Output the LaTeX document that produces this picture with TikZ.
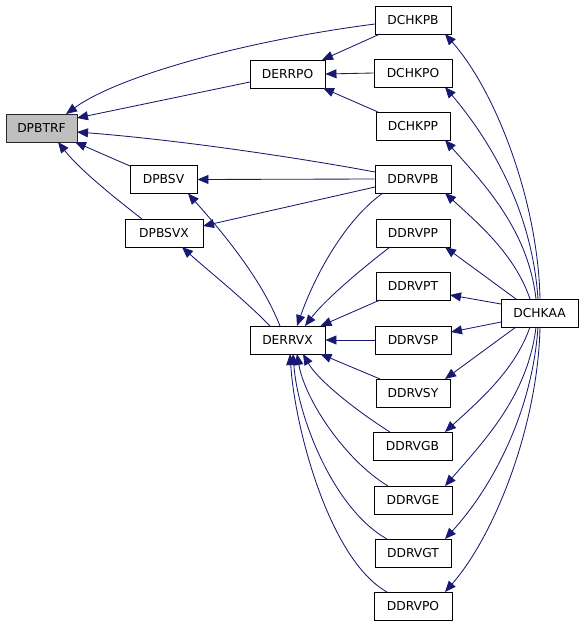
\documentclass[tikz,border=0pt]{standalone}
\usepackage{fontspec}
\setmainfont{DejaVu Sans}
\usetikzlibrary{arrows.meta,calc}
\definecolor{edgeblue}{HTML}{191970}
\definecolor{hlgray}{HTML}{BFBFBF}
\begin{document}
\begin{tikzpicture}[x=1pt,y=-1pt,
  fn/.style={draw=black,line width=0.9pt,minimum height=28pt,inner sep=0pt,
    font=\fontsize{12.3}{14}\selectfont,fill=white},
  cur/.style={fn,fill=hlgray,draw=black!85},
  call/.style={draw=edgeblue,line width=0.85pt,-{Triangle[length=11pt,width=9pt]}}]
\useasboundingbox (0,0) rectangle (584,627);
% nodes
\node[cur,minimum width=71pt] (DPBTRF) at (41.5,128) {DPBTRF};
\node[fn,minimum width=75pt] (DERRPO) at (287.5,74) {DERRPO};
\node[fn,minimum width=76pt] (DCHKPB) at (413,20) {DCHKPB};
\node[fn,minimum width=78pt] (DCHKPO) at (413,73) {DCHKPO};
\node[fn,minimum width=74pt] (DCHKPP) at (413,126) {DCHKPP};
\node[fn,minimum width=76pt] (DDRVPB) at (413,179) {DDRVPB};
\node[fn,minimum width=74pt] (DDRVPP) at (413,233) {DDRVPP};
\node[fn,minimum width=74pt] (DDRVPT) at (413,286) {DDRVPT};
\node[fn,minimum width=76pt] (DDRVSP) at (413,340) {DDRVSP};
\node[fn,minimum width=74pt] (DDRVSY) at (413,393) {DDRVSY};
\node[fn,minimum width=79pt] (DDRVGB) at (412.5,446) {DDRVGB};
\node[fn,minimum width=78pt] (DDRVGE) at (413,500) {DDRVGE};
\node[fn,minimum width=76pt] (DDRVGT) at (413,553) {DDRVGT};
\node[fn,minimum width=78pt] (DDRVPO) at (413,606) {DDRVPO};
\node[fn,minimum width=77pt] (DCHKAA) at (539.5,313) {DCHKAA};
\node[fn,minimum width=75pt] (DERRVX) at (287.5,340) {DERRVX};
\node[fn,minimum width=67pt] (DPBSV) at (163.5,179.5) {DPBSV};
\node[fn,minimum width=78pt] (DPBSVX) at (164,233) {DPBSVX};
% edges into DPBTRF
\draw[call] ($(DCHKPB)+(-38,4)$) .. controls (250,40) and (120,75) .. ($(DPBTRF)+(24.5,-14)$);
\draw[call] ($(DERRPO)+(-37.5,8)$) -- ($(DPBTRF)+(35.5,-10)$);
\draw[call] ($(DDRVPB)+(-38,-7)$) .. controls (300,158) and (180,140) .. ($(DPBTRF)+(35.5,4)$);
\draw[call] ($(DPBSV)+(-33.5,-13.5)$) -- ($(DPBTRF)+(33.5,14)$);
\draw[call] ($(DPBSVX)+(-22,-14)$) .. controls (115,198) and (80,170) .. ($(DPBTRF)+(16.5,14)$);
% edges into DERRPO
\draw[call] ($(DCHKPB)+(-33,14)$) -- ($(DERRPO)+(34.5,-14)$);
\draw[call] (DCHKPO.west) -- (DERRPO.east);
\draw[call] ($(DCHKPP)+(-35,-14)$) -- ($(DERRPO)+(35.5,14)$);
% edges into DPBSV / DPBSVX
\draw[call] (DDRVPB.west) -- (DPBSV.east);
\draw[call] ($(DDRVPB)+(-38,8)$) -- ($(DPBSVX)+(39,-7)$);
\draw[call] ($(DERRVX)+(-7.5,-14)$) .. controls (262,280) and (225,235) .. ($(DPBSV)+(24.5,14)$);
\draw[call] ($(DERRVX)+(-17.5,-14)$) .. controls (245,300) and (205,268) .. ($(DPBSVX)+(18,14)$);
% edges into DERRVX
\draw[call] ($(DDRVPB)+(-30,14)$) .. controls (345,220) and (315,275) .. ($(DERRVX)+(9.5,-14)$);
\draw[call] ($(DDRVPP)+(-23,14)$) .. controls (360,270) and (325,300) .. ($(DERRVX)+(17.5,-14)$);
\draw[call] ($(DDRVPT)+(-33,14)$) -- ($(DERRVX)+(33,-14)$);
\draw[call] (DDRVSP.west) -- (DERRVX.east);
\draw[call] ($(DDRVSY)+(-33,-14)$) -- ($(DERRVX)+(33,14)$);
\draw[call] ($(DDRVGB)+(-22.5,-14)$) .. controls (355,410) and (318,380) .. ($(DERRVX)+(15.5,14)$);
\draw[call] ($(DDRVGE)+(-25,-14)$) .. controls (345,460) and (305,400) .. ($(DERRVX)+(9.5,14)$);
\draw[call] ($(DDRVGT)+(-26,-14)$) .. controls (335,510) and (298,420) .. ($(DERRVX)+(5.5,14)$);
\draw[call] ($(DDRVPO)+(-26,-14)$) .. controls (330,560) and (295,430) .. ($(DERRVX)+(2.5,14)$);
% edges from DCHKAA
\draw[call] ($(DCHKAA)+(0.5,-14)$) .. controls (538,200) and (495,90) .. ($(DCHKPB)+(32,14)$);
\draw[call] ($(DCHKAA)+(-1.5,-14)$) .. controls (532,210) and (490,140) .. ($(DCHKPO)+(32,14)$);
\draw[call] ($(DCHKAA)+(-3.5,-14)$) .. controls (528,230) and (485,185) .. ($(DCHKPP)+(32,14)$);
\draw[call] ($(DCHKAA)+(-9.5,-14)$) .. controls (515,255) and (480,225) .. ($(DDRVPB)+(32,14)$);
\draw[call] ($(DCHKAA)+(-23.5,-14)$) -- ($(DDRVPP)+(32,14)$);
\draw[call] ($(DCHKAA)+(-38.5,-9)$) -- ($(DDRVPT)+(37,9)$);
\draw[call] ($(DCHKAA)+(-38.5,9)$) -- ($(DDRVSP)+(38,-8)$);
\draw[call] ($(DCHKAA)+(-23.5,14)$) -- ($(DDRVSY)+(32,-14)$);
\draw[call] ($(DCHKAA)+(-9.5,14)$) .. controls (515,370) and (480,400) .. ($(DDRVGB)+(32.5,-14)$);
\draw[call] ($(DCHKAA)+(-3.5,14)$) .. controls (528,395) and (485,440) .. ($(DDRVGE)+(32,-14)$);
\draw[call] ($(DCHKAA)+(-1.5,14)$) .. controls (532,415) and (490,490) .. ($(DDRVGT)+(32,-14)$);
\draw[call] ($(DCHKAA)+(0.5,14)$) .. controls (538,425) and (495,535) .. ($(DDRVPO)+(32,-14)$);
\end{tikzpicture}
\end{document}
